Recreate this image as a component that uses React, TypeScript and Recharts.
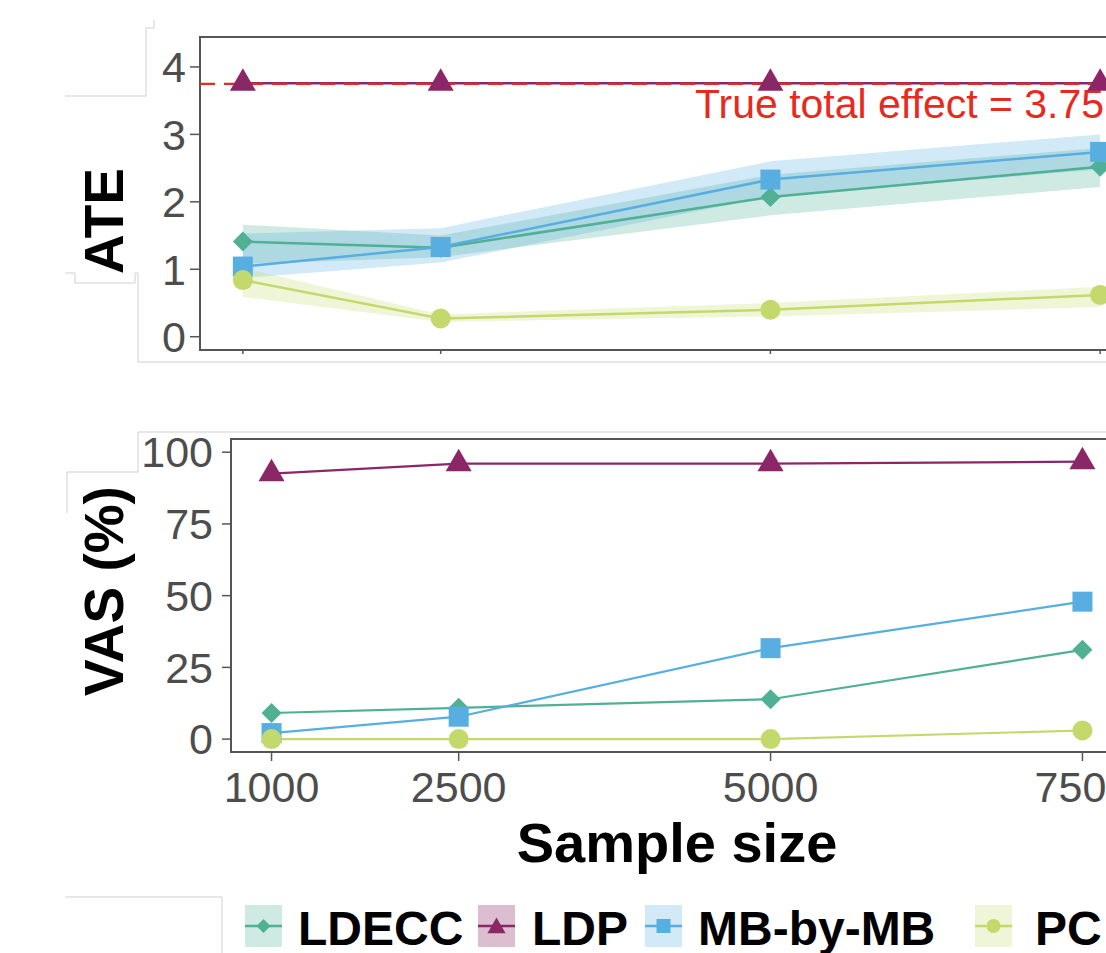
import React from 'react';
import { ComposedChart, Line, Area, XAxis, YAxis, ReferenceLine, ReferenceArea } from 'recharts';

// ---------- data ----------
const sampleSizes = [1000, 2500, 5000, 7500];
const methods = ['LDECC', 'LDP', 'MB-by-MB', 'PC'];
const ateTicks = [0, 1, 2, 3, 4];
const vasTicks = [0, 25, 50, 75, 100];
const trueEffect = 3.75;
const trueEffectLabel = 'True total effect = 3.75';

const ldeccAte = [1.41, 1.32, 2.07, 2.52];
const ldeccAteLow = [1.08, 1.18, 1.8, 2.22];
const ldeccAteHigh = [1.66, 1.5, 2.4, 2.8];
const ldpAte = [3.76, 3.76, 3.76, 3.76];
const mbAte = [1.04, 1.33, 2.33, 2.74];
const mbAteLow = [0.87, 1.1, 2.08, 2.48];
const mbAteHigh = [1.53, 1.61, 2.6, 3.0];
const pcAte = [0.84, 0.27, 0.4, 0.62];
const pcAteLow = [0.59, 0.22, 0.3, 0.44];
const pcAteHigh = [1.02, 0.33, 0.5, 0.74];

const ldeccVas = [9.1, 10.9, 13.9, 31.1];
const ldpVas = [92.5, 96.0, 96.0, 96.7];
const mbVas = [2.1, 7.8, 31.7, 47.9];
const pcVas = [0, 0, 0, 3.0];

// ---------- styles ----------
const FONT = '"Liberation Sans", Arial, Helvetica, sans-serif';
const series = [
  { name: methods[0], key: 'ldecc', color: '#4FB094', shape: 'diamond' },
  { name: methods[1], key: 'ldp', color: '#8C2767', shape: 'triangle' },
  { name: methods[2], key: 'mb', color: '#58AEE0', shape: 'square' },
  { name: methods[3], key: 'pc', color: '#C4D96B', shape: 'circle' },
];

const ateData = sampleSizes.map((n, i) => ({
  n,
  ldecc: ldeccAte[i],
  ldp: ldpAte[i],
  mb: mbAte[i],
  pc: pcAte[i],
  ldeccBand: [ldeccAteLow[i], ldeccAteHigh[i]],
  mbBand: [mbAteLow[i], mbAteHigh[i]],
  pcBand: [pcAteLow[i], pcAteHigh[i]],
}));

const vasData = sampleSizes.map((n, i) => ({
  n,
  ldecc: ldeccVas[i],
  ldp: ldpVas[i],
  mb: mbVas[i],
  pc: pcVas[i],
}));

function Marker({ shape, cx, cy, color, s = 1 }: any) {
  if (cx == null || cy == null) return <g />;
  if (shape === 'diamond') {
    const r = 10 * s;
    return <polygon points={`${cx},${cy - r} ${cx + r},${cy} ${cx},${cy + r} ${cx - r},${cy}`} fill={color} />;
  }
  if (shape === 'triangle') {
    const r = 15 * s;
    const xc = (Math.sqrt(3) / 2) * r;
    return <polygon points={`${cx},${cy - r} ${cx + xc},${cy + r / 2} ${cx - xc},${cy + r / 2}`} fill={color} />;
  }
  if (shape === 'square') {
    const h = 10 * s;
    return <rect x={cx - h} y={cy - h} width={2 * h} height={2 * h} fill={color} />;
  }
  return <circle cx={cx} cy={cy} r={10 * s} fill={color} />;
}

const dotRenderer = (shape: string, color: string, name: string) => (props: any) => (
  <Marker key={`${name}-${props.index}`} shape={shape} cx={props.cx} cy={props.cy} color={color} />
);

const AXIS_COLOR = '#555555';
const TICK_TEXT = '#4D4D4D';
const X_DOMAIN: [number, number] = [675, 7825];
const ATE_DOMAIN: [number, number] = [-0.197, 4.444];
const VAS_DOMAIN: [number, number] = [-4.5, 104.6];

const TrueEffectLabel = (props: any) => {
  const vb = props.viewBox || {};
  return (
    <text x={(vb.x || 0) + 495} y={(vb.y || 0) + 34.5} fill="#E8291E" fontSize={41} fontFamily={FONT}>
      {trueEffectLabel}
    </text>
  );
};

export default function App() {
  const legendKeyX = [245, 478, 645, 975];
  const legendTextX = [298, 532, 698, 1035];
  return (
    <div
      style={{
        position: 'absolute',
        left: 0,
        top: 0,
        width: 1106,
        height: 953,
        overflow: 'hidden',
        background: '#FFFFFF',
        fontFamily: FONT,
      }}
    >
      {/* Top panel: ATE */}
      <div style={{ position: 'absolute', left: 0, top: 0 }}>
        <ComposedChart width={1160} height={380} data={ateData} margin={{ top: 37, right: 17, left: 0, bottom: 0 }}>
          <XAxis
            type="number"
            dataKey="n"
            domain={X_DOMAIN}
            ticks={sampleSizes}
            interval={0}
            allowDataOverflow
            height={30}
            axisLine={false}
            tickSize={4}
            tickLine={{ stroke: AXIS_COLOR, strokeWidth: 1.5 }}
            tick={() => <g />}
          />
          <YAxis
            type="number"
            domain={ATE_DOMAIN}
            ticks={ateTicks}
            interval={0}
            allowDataOverflow
            width={200}
            axisLine={false}
            tickSize={10}
            tickMargin={4}
            tickLine={{ stroke: AXIS_COLOR, strokeWidth: 1.5 }}
            tick={{ fontSize: 43, fill: TICK_TEXT, fontFamily: FONT }}
          />
          <ReferenceArea
            x1={X_DOMAIN[0]}
            x2={X_DOMAIN[1]}
            y1={ATE_DOMAIN[0]}
            y2={ATE_DOMAIN[1]}
            fill="none"
            fillOpacity={0}
            stroke={AXIS_COLOR}
            strokeWidth={2}
            ifOverflow="visible"
          />
          {series
            .filter((s) => s.key !== 'ldp')
            .map((s) => (
              <Area
                key={`band-${s.key}`}
                type="linear"
                dataKey={`${s.key}Band`}
                stroke="none"
                fill={s.color}
                fillOpacity={0.27}
                dot={false}
                activeDot={false}
                isAnimationActive={false}
              />
            ))}
          {series.map((s) => (
            <Line
              key={`line-${s.key}`}
              type="linear"
              dataKey={s.key}
              stroke={s.color}
              strokeWidth={2.5}
              dot={false}
              activeDot={false}
              isAnimationActive={false}
            />
          ))}
          {series.map((s) => (
            <Line
              key={`pts-${s.key}`}
              type="linear"
              dataKey={s.key}
              stroke="none"
              dot={dotRenderer(s.shape, s.color, `ate-${s.key}`)}
              activeDot={false}
              isAnimationActive={false}
            />
          ))}
          <ReferenceLine
            y={trueEffect}
            stroke="#E8291E"
            strokeWidth={2.2}
            strokeDasharray="15 9"
            ifOverflow="visible"
            label={<TrueEffectLabel />}
          />
        </ComposedChart>
      </div>

      {/* Bottom panel: VAS */}
      <div style={{ position: 'absolute', left: 0, top: 400 }}>
        <ComposedChart width={1160} height={500} data={vasData} margin={{ top: 39, right: 37, left: 0, bottom: 0 }}>
          <XAxis
            type="number"
            dataKey="n"
            domain={X_DOMAIN}
            ticks={sampleSizes}
            interval={0}
            allowDataOverflow
            height={148}
            axisLine={false}
            tickSize={9}
            tickMargin={10}
            tickLine={{ stroke: AXIS_COLOR, strokeWidth: 1.5 }}
            tick={{ fontSize: 43, fill: TICK_TEXT, fontFamily: FONT }}
          />
          <YAxis
            type="number"
            domain={VAS_DOMAIN}
            ticks={vasTicks}
            interval={0}
            allowDataOverflow
            width={231}
            axisLine={false}
            tickSize={9}
            tickMargin={9}
            tickLine={{ stroke: AXIS_COLOR, strokeWidth: 1.5 }}
            tick={{ fontSize: 43, fill: TICK_TEXT, fontFamily: FONT }}
          />
          <ReferenceArea
            x1={X_DOMAIN[0]}
            x2={X_DOMAIN[1]}
            y1={VAS_DOMAIN[0]}
            y2={VAS_DOMAIN[1]}
            fill="none"
            fillOpacity={0}
            stroke={AXIS_COLOR}
            strokeWidth={2}
            ifOverflow="visible"
          />
          {series.map((s) => (
            <Line
              key={`vline-${s.key}`}
              type="linear"
              dataKey={s.key}
              stroke={s.color}
              strokeWidth={2.2}
              dot={false}
              activeDot={false}
              isAnimationActive={false}
            />
          ))}
          {series.map((s) => (
            <Line
              key={`vpts-${s.key}`}
              type="linear"
              dataKey={s.key}
              stroke="none"
              dot={dotRenderer(s.shape, s.color, `vas-${s.key}`)}
              activeDot={false}
              isAnimationActive={false}
            />
          ))}
        </ComposedChart>
      </div>

      {/* Titles, legend and frame remnants */}
      <svg
        width={1106}
        height={953}
        style={{ position: 'absolute', left: 0, top: 0, pointerEvents: 'none' }}
      >
        <g stroke="#CFCFCF" strokeWidth={1} fill="none">
          <polyline points="154,20 154,28 146,28 146,96 65,96" />
          <polyline points="65,273 75,273 75,283 135,283 135,273 138,273 138,362 1106,362" />
          <polyline points="1106,432 138,432 138,472 67,472 67,513" />
          <polyline points="65,897 222,897 222,953" />
        </g>
        <text
          transform="translate(123,221) rotate(-90)"
          textAnchor="middle"
          fontSize={55}
          fontWeight="bold"
          fontFamily={FONT}
          fill="#000"
        >
          ATE
        </text>
        <text
          transform="translate(123,591) rotate(-90)"
          textAnchor="middle"
          fontSize={55}
          fontWeight="bold"
          fontFamily={FONT}
          fill="#000"
        >
          VAS (%)
        </text>
        <text x={677} y={862} textAnchor="middle" fontSize={56} fontWeight="bold" fontFamily={FONT} fill="#000">
          Sample size
        </text>
        {series.map((s, i) => {
          const kx = legendKeyX[i];
          const cy = 926;
          return (
            <g key={`leg-${s.key}`}>
              <rect x={kx} y={905} width={37} height={42} fill={s.color} fillOpacity={s.key === 'ldp' ? 0.3 : 0.27} />
              <line x1={kx} x2={kx + 37} y1={cy} y2={cy} stroke={s.color} strokeWidth={2.5} />
              <Marker shape={s.shape} cx={kx + 18.5} cy={s.shape === 'triangle' ? cy + 2 : cy} color={s.color} s={0.7} />
              <text x={legendTextX[i]} y={945} fontSize={48} fontWeight="bold" fontFamily={FONT} fill="#000">
                {s.name}
              </text>
            </g>
          );
        })}
      </svg>
    </div>
  );
}
